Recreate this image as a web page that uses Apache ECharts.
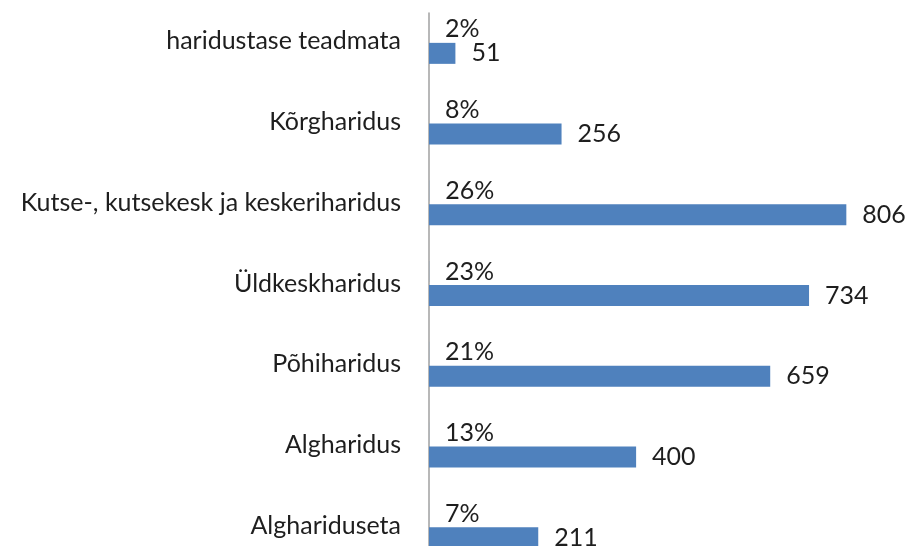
<!DOCTYPE html>
<html>
<head>
<meta charset="utf-8">
<script src="https://cdn.jsdelivr.net/npm/echarts@6/dist/echarts.min.js"></script>
<style>
  html, body { margin: 0; padding: 0; background: #fff; overflow: hidden; }
  /* taller than the window: the original is cropped through the last band */
  #chart { width: 907px; height: 580px; }
</style>
</head>
<body>
<div id="chart"></div>
<script>
// categories, top to bottom
const categories = [
  'haridustase teadmata',
  'Kõrgharidus',
  'Kutse-, kutsekesk ja keskeriharidus',
  'Üldkeskharidus',
  'Põhiharidus',
  'Algharidus',
  'Alghariduseta'
]
const counts = [51, 256, 806, 734, 659, 400, 211]
const shares = [0.02, 0.08, 0.26, 0.23, 0.21, 0.13, 0.07]

const labelFont = 'Lato'
const textColor = '#1e1e1e'

const chart = echarts.init(document.getElementById('chart'))
chart.setOption({
  animation: false,
  grid: {
    left: 429,
    top: 13,
    width: 466,
    height: 565
  },
  xAxis: {
    type: 'value',
    min: 0,
    max: 900,
    show: false
  },
  yAxis: {
    type: 'category',
    inverse: true,
    data: categories,
    axisTick: { show: false },
    axisLine: { lineStyle: { color: '#a0a0a0', width: 1.5 } },
    axisLabel: {
      margin: 28,
      fontFamily: labelFont,
      fontSize: 25,
      lineHeight: 24,
      color: textColor,
      verticalAlign: 'bottom'
    }
  },
  series: [
    {
      name: 'osakaal',
      type: 'bar',
      barWidth: 21,
      barGap: '14%',
      data: shares,
      itemStyle: { color: '#4f81bd' },
      label: {
        show: true,
        position: 'right',
        distance: 16,
        fontFamily: labelFont,
        fontSize: 25,
        color: textColor,
        formatter: p => Math.round(p.value * 100) + '%'
      }
    },
    {
      name: 'arv',
      type: 'bar',
      barWidth: 21,
      data: counts,
      itemStyle: { color: '#4f81bd' },
      label: {
        show: true,
        position: 'right',
        distance: 16,
        fontFamily: labelFont,
        fontSize: 25,
        color: textColor
      }
    },
    {
      // empty slot, keeps the pair above the band centre like the original
      name: 'tühi',
      type: 'bar',
      barWidth: 21,
      data: []
    }
  ]
})
</script>
</body>
</html>
